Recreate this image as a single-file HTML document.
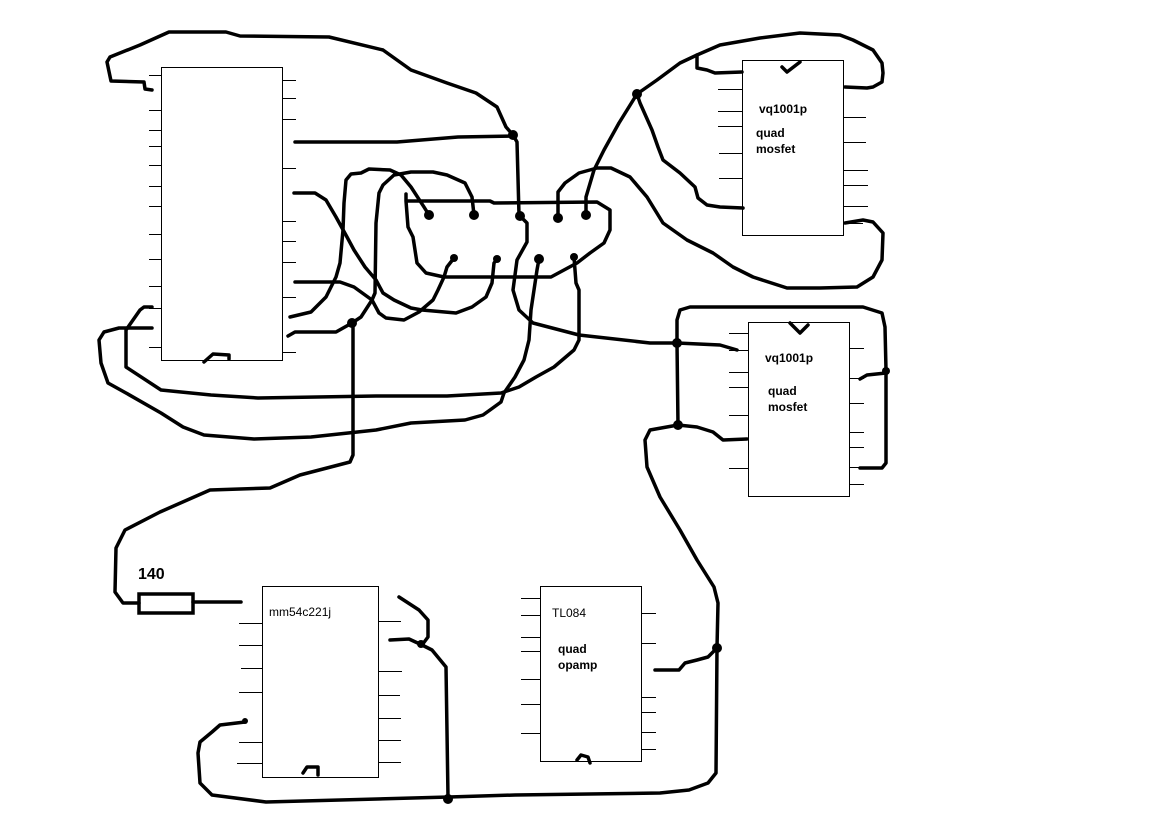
<!DOCTYPE html>
<html><head><meta charset="utf-8"><style>
html,body{margin:0;padding:0;background:#fff}
svg{display:block}
text{font-family:"Liberation Sans",sans-serif;font-size:12px;font-weight:bold;fill:#000}
</style></head><body>
<svg width="1156" height="826" viewBox="0 0 1156 826" xmlns="http://www.w3.org/2000/svg">
<g fill="#fff" stroke="#000" stroke-width="1" shape-rendering="crispEdges">
<rect x="161.5" y="67.5" width="121" height="293"/>
<rect x="742.5" y="60.5" width="101" height="175"/>
<rect x="748.5" y="322.5" width="101" height="174"/>
<rect x="262.5" y="586.5" width="116" height="191"/>
<rect x="540.5" y="586.5" width="101" height="175"/>
</g>
<g stroke="#000" stroke-width="1" shape-rendering="crispEdges">
<path d="M149 75.5H161M149 110.5H161M149 130.5H161M149 146.5H161M149 165.5H161M149 186.5H161M149 206.5H161M149 234.5H161M149 259.5H161M149 286.5H161M149 308.5H161M149 347.5H161"/>
<path d="M282 80.5H296M282 98.5H296M282 119.5H296M282 168.5H296M282 221.5H296M282 241.5H296M282 262.5H296M282 297.5H296M282 352.5H296"/>
<path d="M718 72.5H742M718 89.5H742M718 111.5H742M718 126.5H742M719 153.5H742M719 178.5H742M730 208.5H742"/>
<path d="M843 87.5H866M843 117.5H866M843 142.5H866M843 170.5H868M843 185.5H868M843 206.5H868M843 223.5H863"/>
<path d="M729 333.5H748M729 350.5H748M729 372.5H748M729 387.5H748M729 415.5H748M729 439.5H748M729 468.5H748"/>
<path d="M849 348.5H864M849 378.5H864M849 403.5H864M849 432.5H864M849 447.5H864M849 467.5H864M849 484.5H864"/>
<path d="M239 623.5H262M239 645.5H262M241 668.5H262M239 692.5H262M239 742.5H262M237 763.5H262"/>
<path d="M378 621.5H401M378 671.5H402M378 695.5H400M378 718.5H401M378 740.5H401M378 762.5H401"/>
<path d="M521 598.5H540M521 615.5H540M521 637.5H540M521 651.5H540M521 679.5H540M521 704.5H540M521 733.5H540"/>
<path d="M641 613.5H656M641 643.5H656M641 697.5H656M641 712.5H656M641 732.5H656M641 749.5H656"/>
</g>
<g fill="none" stroke="#000" stroke-width="3.5" stroke-linejoin="round" stroke-linecap="round">
<polyline points="152,90 145,89 144,82 111,81 107,62 110,57 140,45 169,32 226,32 240,36 329,37 383,50 411,70 447,83 476,93 497,107 506,127 513,135"/>
<polyline points="295,142 397,142 458,137 513,136"/>
<polyline points="513,135 517,142 519,215 527,223 527,242 517,260 513,290 519,310 533,323 579,335 650,343 677,343 720,345 737,350"/>
<polyline points="406,194 406,201 490,201 494,203 597,202 610,210 610,230 604,243 590,253 577,263 551,277 444,277 426,273 417,263 413,237 408,227 406,201"/>
<polyline points="429,215 424,207 411,187 401,175 390,170 369,169 361,173 351,174 346,180 344,203 343,230 340,263 336,277 326,297 311,312 290,317"/>
<polyline points="474,215 472,197 465,183 447,175 433,172 411,172 394,175 383,185 379,193 376,223 375,293 372,300 361,317 352,323"/>
<polyline points="352,323 336,332 295,332 288,336"/>
<polyline points="353,323 353,455 350,462 300,475 270,488 210,490 160,512 125,530 116,548 115,592 123,603 139,603"/>
<polyline points="294,193 315,193 326,200 336,217 347,237 354,250 365,267 376,280 383,293 394,300 411,308 422,310 456,313 472,307 486,297 492,283 494,263 497,259"/>
<polyline points="295,282 340,282 354,287 372,300 379,313 386,318 404,320 419,312 433,300 438,290 444,277 447,267 454,258"/>
<polyline points="539,259 537,270 531,310 529,340 524,360 515,377 504,393 501,402 490,410 483,415 465,420 411,423 376,430 311,437 254,439 204,435 183,427 161,413 126,393 108,383 101,363 99,340 104,332 119,328 152,328"/>
<polyline points="574,257 576,283 579,290 579,340 574,350 554,367 536,377 519,387 501,393 447,396 376,396 258,398 211,395 161,390 126,367 126,330 133,320 140,310 144,307 152,307"/>
<polyline points="558,218 558,192 565,183 579,173 597,168 611,168 630,177 647,197 663,223 687,240 713,253 733,267 753,277 787,288 820,288 857,287 873,277 882,260 883,233 873,222 863,220 845,223"/>
<polyline points="586,215 586,197 594,170 604,150 619,123 637,94 657,80 680,63 697,55 720,45 760,38 800,33 840,35 853,40 873,50 882,63 883,73 882,82 873,87 867,88 845,87"/>
<polyline points="697,55 697,68 707,70 715,73 742,72"/>
<polyline points="637,94 640,103 652,130 658,147 663,160 680,173 695,187 698,198 707,205 720,207 743,208"/>
<polyline points="782,67 787,72 800,62"/>
<polyline points="677,343 677,320 680,310 690,307 863,307 882,313 885,327 886,370 886,463 882,468 860,468"/>
<polyline points="860,379 867,375 886,373"/>
<polyline points="790,323 800,333 808,325"/>
<polyline points="677,343 678,425"/>
<polyline points="678,425 697,427 713,432 723,440 747,439"/>
<polyline points="678,425 650,430 645,440 647,467 660,497 680,530 697,560 714,587 718,603 717,648 716,773 708,783 689,790 660,793 515,795 449,797"/>
<polyline points="655,670 679,670 685,663 697,660 708,657 717,648"/>
<polyline points="193,602 241,602"/>
<polyline points="399,597 419,610 428,620 428,637 422,645"/>
<polyline points="390,640 409,639 422,645 432,650 446,667 448,797"/>
<polyline points="245,722 220,725 212,732 200,742 198,753 200,783 212,795 266,802 449,797"/>
<polyline points="303,773 307,767 318,767 318,775"/>
<polyline points="577,760 581,755 588,757 590,763"/>
<polyline points="204,362 213,354 229,355 229,359"/>
</g>
<rect x="139" y="594" width="54" height="19" fill="none" stroke="#000" stroke-width="3.5"/>
<g fill="#000">
<circle cx="513" cy="135" r="5"/><circle cx="429" cy="215" r="5"/><circle cx="474" cy="215" r="5"/>
<circle cx="520" cy="216" r="5"/><circle cx="558" cy="218" r="5"/><circle cx="586" cy="215" r="5"/>
<circle cx="454" cy="258" r="4"/><circle cx="497" cy="259" r="4"/><circle cx="539" cy="259" r="5"/><circle cx="574" cy="257" r="4"/>
<circle cx="352" cy="323" r="5"/><circle cx="637" cy="94" r="5"/><circle cx="677" cy="343" r="5"/>
<circle cx="678" cy="425" r="5"/><circle cx="886" cy="371" r="4"/><circle cx="717" cy="648" r="5"/>
<circle cx="448" cy="799" r="5"/><circle cx="421" cy="644" r="4"/><circle cx="245" cy="721" r="3"/>
</g>
<text x="759" y="113">vq1001p</text>
<text x="756" y="137">quad</text>
<text x="756" y="153">mosfet</text>
<text x="765" y="362">vq1001p</text>
<text x="768" y="395">quad</text>
<text x="768" y="411">mosfet</text>
<text x="269" y="616" style="font-weight:normal">mm54c221j</text>
<text x="552" y="617" style="font-weight:normal">TL084</text>
<text x="558" y="653">quad</text>
<text x="558" y="669">opamp</text>
<text x="138" y="579" style="font-size:16px;font-weight:bold">140</text>
</svg>
</body></html>
